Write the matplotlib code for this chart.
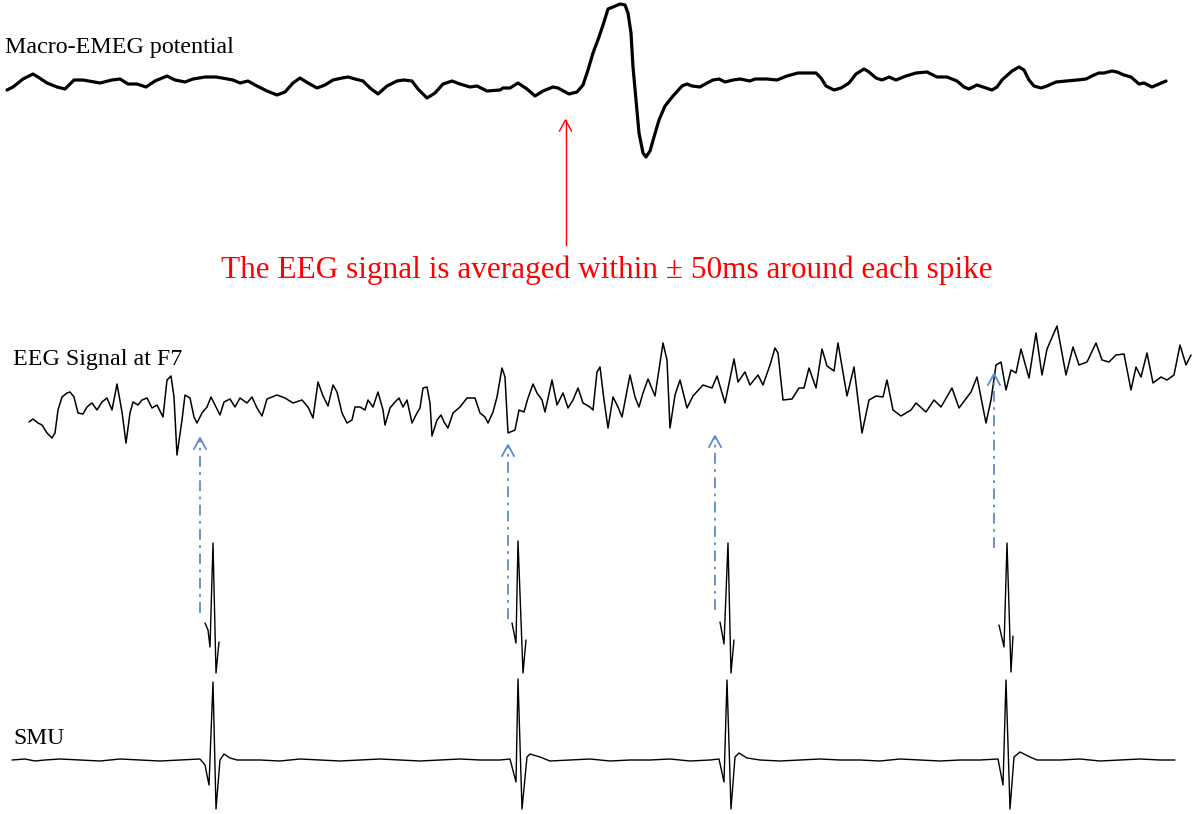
import matplotlib.pyplot as plt

# Trazos: pares (x, y) en píxeles de la imagen, y hacia abajo
macro = [(7, 90), (13, 87), (23, 79), (33, 74), (38, 77), (47, 83), (57, 87), (65, 89), (74, 80),
         (83, 80), (100, 83), (112, 80), (120, 79), (128, 84), (137, 84), (146, 87), (155, 81),
         (167, 76), (175, 80), (185, 82), (193, 79), (205, 77), (216, 77), (222, 78), (233, 80),
         (240, 83), (248, 81), (257, 86), (267, 91), (277, 95), (285, 92), (293, 83), (300, 78),
         (308, 83), (317, 88), (325, 85), (333, 80), (342, 78), (348, 77), (355, 79), (363, 81),
         (370, 88), (378, 94), (387, 86), (397, 81), (404, 80), (412, 81), (418, 89), (427, 98),
         (435, 93), (443, 84), (452, 81), (460, 84), (470, 87), (477, 86), (487, 91), (500, 90),
         (503, 88), (510, 88), (518, 83), (527, 89), (535, 96), (543, 91), (553, 87), (558, 88),
         (569, 94), (577, 92), (583, 85), (588, 70), (593, 53), (599, 37), (604, 22), (608, 9),
         (613, 7), (620, 4), (625, 5), (628, 13), (631, 33), (633, 67), (636, 100), (639, 133),
         (643, 153), (646, 157), (650, 151), (654, 137), (659, 120), (665, 106), (673, 96),
         (682, 86), (687, 84), (692, 86), (700, 87), (707, 83), (713, 80), (719, 79), (725, 82),
         (733, 80), (740, 79), (750, 81), (755, 79), (767, 79), (777, 80), (787, 76), (798, 73),
         (801, 73), (816, 73), (821, 78), (826, 86), (834, 90), (841, 88), (849, 83), (856, 74),
         (864, 69), (869, 72), (876, 78), (882, 80), (889, 77), (896, 80), (906, 76), (916, 73),
         (927, 72), (937, 77), (947, 77), (957, 81), (964, 87), (969, 89), (977, 85), (986, 88),
         (992, 90), (997, 87), (1002, 80), (1012, 71), (1019, 67), (1024, 70), (1029, 80),
         (1034, 86), (1041, 88), (1047, 86), (1056, 82), (1067, 81), (1077, 80), (1086, 79),
         (1094, 75), (1099, 73), (1104, 73), (1112, 71), (1117, 72), (1124, 75), (1131, 77),
         (1139, 84), (1144, 83), (1152, 87), (1159, 84), (1166, 81)]

eeg = [(29, 422), (33, 419), (38, 423), (42, 425), (47, 433), (52, 438), (55, 433), (58, 410),
       (62, 397), (67, 393), (70, 392), (74, 397), (78, 413), (83, 414), (87, 407), (92, 403),
       (97, 410), (102, 402), (107, 398), (112, 410), (117, 384), (122, 412), (126, 443),
       (130, 413), (133, 402), (138, 405), (142, 400), (147, 398), (152, 408), (157, 405),
       (163, 417), (167, 380), (171, 376), (174, 397), (177, 455), (182, 420), (185, 395),
       (190, 398), (194, 417), (197, 423), (202, 413), (207, 407), (211, 397), (215, 405),
       (220, 415), (224, 402), (230, 399), (235, 407), (240, 398), (247, 403), (252, 397),
       (257, 408), (262, 416), (267, 399), (277, 395), (285, 398), (293, 403), (302, 400),
       (308, 407), (313, 418), (318, 382), (323, 396), (328, 406), (333, 385), (337, 392),
       (342, 413), (347, 423), (352, 420), (355, 407), (360, 407), (365, 410), (368, 400),
       (373, 407), (378, 392), (383, 410), (385, 425), (390, 408), (395, 402), (399, 398),
       (403, 407), (407, 400), (412, 423), (417, 413), (420, 408), (423, 388), (427, 387),
       (430, 403), (432, 436), (437, 420), (441, 415), (444, 422), (448, 428), (453, 413),
       (460, 407), (467, 398), (475, 398), (480, 413), (485, 417), (488, 423), (493, 412),
       (497, 397), (502, 368), (505, 377), (508, 433), (515, 430), (519, 410), (524, 412),
       (528, 398), (533, 384), (537, 393), (542, 400), (545, 412), (552, 380), (557, 405),
       (563, 393), (568, 408), (573, 400), (578, 388), (583, 403), (590, 407), (593, 410),
       (597, 372), (600, 367), (604, 400), (608, 428), (613, 397), (618, 407), (622, 417),
       (630, 375), (635, 397), (639, 407), (643, 393), (648, 379), (655, 396), (663, 343),
       (667, 360), (670, 428), (675, 395), (680, 380), (687, 408), (693, 396), (703, 385),
       (712, 388), (717, 376), (725, 403), (734, 359), (738, 382), (745, 372), (750, 385),
       (758, 375), (763, 385), (770, 365), (775, 348), (778, 353), (783, 400), (792, 399),
       (799, 388), (804, 388), (809, 368), (816, 388), (822, 349), (827, 366), (834, 371),
       (838, 343), (847, 396), (854, 367), (862, 433), (869, 400), (876, 396), (883, 397),
       (887, 380), (893, 410), (901, 416), (911, 410), (916, 403), (926, 412), (934, 400),
       (941, 407), (952, 388), (959, 408), (971, 392), (977, 377), (986, 423), (991, 400),
       (996, 365), (1001, 362), (1006, 390), (1011, 370), (1016, 373), (1021, 349), (1029, 378),
       (1036, 333), (1042, 375), (1047, 349), (1057, 326), (1066, 375), (1073, 347), (1079, 365),
       (1087, 362), (1096, 343), (1102, 360), (1109, 362), (1116, 355), (1124, 354), (1131, 390),
       (1136, 367), (1141, 377), (1147, 353), (1153, 383), (1161, 377), (1167, 380), (1174, 375),
       (1180, 345), (1186, 365), (1191, 355)]

smu = [(12, 760), (25, 759), (35, 761), (45, 760), (60, 759), (80, 760), (100, 761), (120, 759),
       (140, 760), (160, 761), (180, 760), (200, 759), (205, 765), (209, 785), (213, 682),
       (216, 809), (220, 760), (224, 754), (230, 758), (237, 760), (260, 760), (280, 761),
       (300, 759), (320, 760), (340, 761), (360, 760), (380, 759), (400, 760), (420, 761),
       (440, 760), (460, 759), (480, 760), (500, 760), (510, 759), (516, 782), (518, 679),
       (522, 809), (527, 757), (530, 754), (540, 757), (550, 761), (570, 760), (590, 759),
       (610, 761), (630, 760), (650, 760), (670, 759), (690, 761), (710, 760), (719, 759),
       (724, 782), (727, 680), (731, 809), (735, 757), (739, 753), (747, 758), (760, 760),
       (780, 761), (800, 760), (820, 759), (840, 760), (860, 760), (880, 761), (900, 759),
       (920, 760), (940, 761), (960, 760), (980, 760), (998, 759), (1003, 785), (1006, 680),
       (1010, 809), (1014, 757), (1020, 752), (1030, 757), (1037, 760), (1060, 760),
       (1080, 759), (1100, 761), (1120, 760), (1140, 759), (1160, 760), (1175, 760)]

# Espigas recortadas (fila intermedia)
spikes = [[(205, 623), (208, 630), (210, 647), (213, 543), (216, 673), (219, 642)],
          [(512, 623), (516, 643), (518, 541), (523, 673), (526, 640)],
          [(720, 622), (724, 644), (728, 543), (731, 673), (734, 640)],
          [(999, 625), (1004, 647), (1007, 543), (1011, 672), (1013, 636)]]

# Flechas azules: x, punta, base
flecha_x = [200, 508, 715, 994]
flecha_top = [438, 445, 436, 374]
flecha_bot = [613, 619, 610, 548]

serif = 'Liberation Serif'
azul = '#5B8CCB'

fig = plt.figure(figsize=(11.94, 8.14), dpi=100)
ax = fig.add_axes([0, 0, 1, 1])
ax.set_xlim(0, 1194)
ax.set_ylim(814, 0)
ax.axis('off')

def trazar(pares, **kw):
    xs, ys = zip(*pares)
    ax.plot(xs, ys, solid_joinstyle='round', solid_capstyle='round', **kw)

trazar(macro, color='black', lw=2.3)
trazar(eeg, color='black', lw=1.1)
trazar(smu, color='black', lw=1.0)
for sp in spikes:
    trazar(sp, color='black', lw=1.0)

for x, t, b in zip(flecha_x, flecha_top, flecha_bot):
    ax.plot([x, x], [b, t + 1], color=azul, lw=1.3, ls=(0, (6, 3, 1.5, 3)))
    ax.plot([x - 6, x, x + 6], [t + 11, t, t + 11], color=azul, lw=1.3)

# Flecha roja
ax.plot([565.5, 565.5], [245, 120], color='red', lw=1.0)
ax.plot([559.5, 565.5, 571.5], [131, 120, 131], color='red', lw=1.0)

ax.text(5, 47, 'Macro-EMEG potential', family=serif, fontsize=17.3, va='center', ha='left')
ax.text(13, 359, 'EEG Signal at F7', family=serif, fontsize=17.3, va='center', ha='left')
ax.text(13, 738, 'SMU', family=serif, fontsize=17, va='center', ha='left')
ax.text(607, 270, 'The EEG signal is averaged within \u00b1 50ms around each spike',
        family=serif, fontsize=22.5, color='red', va='center', ha='center')

fig.savefig('out.png', dpi=100)
